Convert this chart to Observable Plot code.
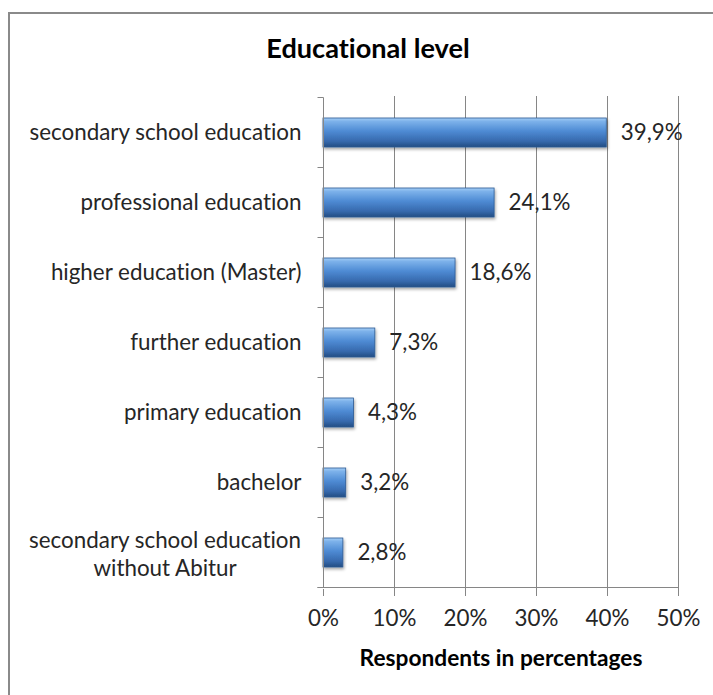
<!DOCTYPE html>
<html>
<head>
<meta charset="utf-8">
<script src="https://cdn.jsdelivr.net/npm/d3@7"></script>
<script src="https://cdn.jsdelivr.net/npm/@observablehq/plot@0.6"></script>
<style>
  html, body { margin: 0; padding: 0; background: #fff; overflow: hidden; }
  * { font-variant-ligatures: none; font-feature-settings: "liga" 0, "clig" 0, "dlig" 0; }
  #frame { position: absolute; left: 8px; top: 12px; width: 800px; height: 800px;
           border-left: 2px solid #8a8a8a; border-top: 2px solid #8a8a8a;
           pointer-events: none; z-index: 2; }
  #titlebox { position: relative; width: 713px; height: 80px; }
  #title { position: absolute; left: 23px; width: 690px; text-align: center;
           font-family: Lato, sans-serif; font-weight: bold; color: #000; white-space: nowrap; }
  #chart svg { display: block; }
  #chart svg text { font-variant-ligatures: none; font-feature-settings: "liga" 0, "clig" 0; }
</style>
</head>
<body>
<div id="frame"></div>
<div id="titlebox"><div id="title">Educational level</div></div>
<div id="chart"></div>
<script>
// ---- data ----
const categories = [
  "secondary school education",
  "professional education",
  "higher education (Master)",
  "further education",
  "primary education",
  "bachelor",
  "secondary school education\nwithout Abitur"
];
const values = [39.9, 24.1, 18.6, 7.3, 4.3, 3.2, 2.8];
const valueLabels = ["39,9%", "24,1%", "18,6%", "7,3%", "4,3%", "3,2%", "2,8%"];
const xTicks = [0, 10, 20, 30, 40, 50];
const xTickLabels = ["0%", "10%", "20%", "30%", "40%", "50%"];
const chartTitle = "Educational level";
const xAxisTitle = "Respondents in percentages";

// ---- font fitting via canvas ----
const FAM = "Lato";
const ctx = document.createElement("canvas").getContext("2d");
function textW(t, font) { ctx.font = font; return ctx.measureText(t).width; }
const labelSize = 100 * 273 / textW("secondary school education", `100px ${FAM}`);
const titleSize = 100 * 204 / textW(chartTitle, `bold 100px ${FAM}`);
const axisTitleSize = 100 * 283 / textW(xAxisTitle, `bold 100px ${FAM}`);
const textColor = "#262626";
const lineColor = "#868686";

// title placement: cap baseline at y=58
{
  const el = document.getElementById("title");
  el.style.fontSize = titleSize + "px";
  ctx.font = `bold ${titleSize}px ${FAM}`;
  const m = ctx.measureText("E");
  const A = m.fontBoundingBoxAscent, D = m.fontBoundingBoxDescent;
  el.style.lineHeight = (A + D) + "px";
  el.style.top = (58 - A) + "px";
}

const data = categories.map((c, i) => ({category: c, value: values[i], label: valueLabels[i]}));
const singles = data.filter(d => !d.category.includes("\n"));
const multis = data.filter(d => d.category.includes("\n"));
const labelGap = 22;
const multiWidth = multis.length
  ? Math.max(...multis[0].category.split("\n").map(s => textW(s, `${labelSize}px ${FAM}`)))
  : 0;

const pad = 0.59;

// category axis: tick marks between categories, axis lines
function categoryAxis(index, scales) {
  const x = scales.x, y = scales.y;
  const step = y(categories[1]) - y(categories[0]);
  const g = d3.create("svg:g").attr("stroke", lineColor).attr("stroke-width", 1).attr("fill", "none");
  const x0 = Math.round(x(0)) + 0.5;
  const bounds = categories.map(c => y(c) - pad * step / 2);
  bounds.push(y(categories[categories.length - 1]) + step - pad * step / 2);
  for (const b of bounds) {
    const yy = Math.round(b) + 0.5;
    g.append("line").attr("x1", x0 - 6).attr("x2", x0).attr("y1", yy).attr("y2", yy);
  }
  const top = Math.round(bounds[0]) + 0.5, bot = Math.round(bounds[bounds.length - 1]) + 0.5;
  g.append("line").attr("x1", x0).attr("x2", x0).attr("y1", top).attr("y2", bot);
  g.append("line").attr("x1", x0 - 6).attr("x2", Math.round(x(xTicks[xTicks.length - 1])) + 0.5)
    .attr("y1", bot).attr("y2", bot);
  return g.node();
}

const svg = Plot.plot({
  width: 713,
  height: 615,
  marginLeft: 323,
  marginRight: 35,
  marginTop: 16,
  marginBottom: 106,
  style: {fontFamily: `${FAM}, sans-serif`, background: "transparent", color: textColor},
  x: {domain: [0, 50], axis: null},
  y: {type: "band", domain: categories, paddingInner: pad, paddingOuter: pad / 2, axis: null},
  marks: [
    Plot.gridX(xTicks.slice(1), {stroke: lineColor, strokeOpacity: 1, strokeWidth: 1}),
    Plot.axisX({
      ticks: xTicks,
      tickFormat: (d) => xTickLabels[xTicks.indexOf(d)],
      tickSize: 7,
      tickPadding: 14,
      stroke: lineColor,
      strokeOpacity: 1,
      fill: textColor,
      fontSize: labelSize,
      label: null
    }),
    Plot.barX(data, {
      x: "value",
      y: "category",
      fill: "url(#barGrad)",
      stroke: "#2c5a93",
      strokeWidth: 0.8
    }),
    categoryAxis,
    Plot.text(data, {
      x: "value", y: "category", text: "label",
      textAnchor: "start", dx: 14, fontSize: labelSize, fill: textColor
    }),
    Plot.text(singles, {
      x: () => 0, y: "category", text: "category",
      textAnchor: "end", dx: -labelGap, fontSize: labelSize, fill: textColor
    }),
    Plot.text(multis, {
      x: () => 0, y: "category", text: "category",
      textAnchor: "middle", dx: -(labelGap + multiWidth / 2),
      lineHeight: 28 / labelSize, fontSize: labelSize, fill: textColor
    }),
    Plot.text([xAxisTitle], {
      frameAnchor: "bottom", text: d => d, dy: 69, lineAnchor: "middle",
      fontWeight: "bold", fontSize: axisTitleSize, fill: "#000"
    })
  ]
});

// gradient + shadow defs
const s = d3.select(svg);
const defs = s.insert("defs", ":first-child");
const grad = defs.append("linearGradient").attr("id", "barGrad")
  .attr("x1", 0).attr("y1", 0).attr("x2", 0).attr("y2", 1);
[[0, "#a4cdf6"], [0.12, "#7cb1ea"], [0.45, "#4e8bd4"], [0.8, "#3669ad"], [1, "#244c82"]]
  .forEach(([o, c]) => grad.append("stop").attr("offset", o).attr("stop-color", c));
const f = defs.append("filter").attr("id", "barShadow")
  .attr("x", "-10%").attr("y", "-20%").attr("width", "130%").attr("height", "160%");
f.append("feDropShadow").attr("dx", 1).attr("dy", 2).attr("stdDeviation", 1.5)
  .attr("flood-color", "#000").attr("flood-opacity", 0.35);
s.selectAll("g[aria-label='bar'] rect").attr("filter", "url(#barShadow)");
s.selectAll("text").style("font-variant-ligatures", "none");

document.getElementById("chart").appendChild(svg);
</script>
</body>
</html>
